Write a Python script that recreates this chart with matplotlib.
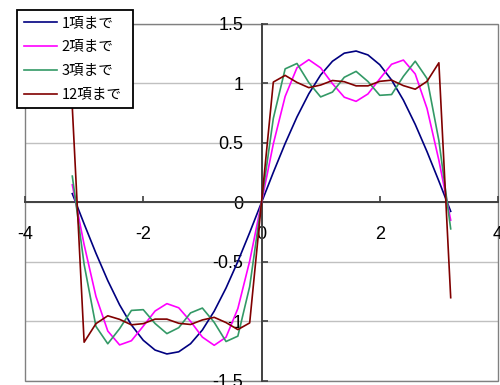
import matplotlib
matplotlib.use("Agg")
import matplotlib.pyplot as plt
from matplotlib.patches import Rectangle
from matplotlib.font_manager import FontProperties

# sample points (step 0.2)
X_VALUES = [-3.2, -3.0, -2.8, -2.6, -2.4, -2.2, -2.0, -1.8, -1.6, -1.4, -1.2, -1.0, -0.8,
            -0.6, -0.4, -0.2, 0.0, 0.2, 0.4, 0.6, 0.8, 1.0, 1.2, 1.4, 1.6, 1.8, 2.0,
            2.2, 2.4, 2.6, 2.8, 3.0, 3.2]

TERM_1 = [0.0743, -0.1797, -0.4265, -0.6564, -0.8600, -1.0294, -1.1578, -1.2400, -1.2727,
          -1.2547, -1.1867, -1.0714, -0.9134, -0.7189, -0.4958, -0.2530, 0.0,
          0.2530, 0.4958, 0.7189, 0.9134, 1.0714, 1.1867, 1.2547, 1.2727, 1.2400,
          1.1578, 1.0294, 0.8600, 0.6564, 0.4265, 0.1797, -0.0743]

TERM_2 = [0.1483, -0.3546, -0.7892, -1.0801, -1.1969, -1.1616, -1.0392, -0.9120, -0.8499,
          -0.8848, -0.9989, -1.1313, -1.2000, -1.1322, -0.8914, -0.4926, 0.0,
          0.4926, 0.8914, 1.1322, 1.2000, 1.1313, 0.9989, 0.8848, 0.8499, 0.9120,
          1.0392, 1.1616, 1.1969, 1.0801, 0.7892, 0.3546, -0.1483]

TERM_3 = [0.2216, -0.5202, -1.0415, -1.1872, -1.0602, -0.9070, -0.9006, -1.0169, -1.1018,
          -1.0521, -0.9278, -0.8871, -1.0073, -1.1682, -1.1230, -0.7069, 0.0,
          0.7069, 1.1230, 1.1682, 1.0073, 0.8871, 0.9278, 1.0521, 1.1018, 1.0169,
          0.9006, 0.9070, 1.0602, 1.1872, 1.0415, 0.5202, -0.2216]

TERM_12 = [0.800, -1.174, -1.018, -0.952, -0.982, -1.028, -1.018, -0.980, -0.980,
           -1.015, -1.025, -0.987, -0.965, -1.009, -1.068, -1.012, 0.0,
           1.012, 1.068, 1.009, 0.965, 0.987, 1.025, 1.015, 0.980, 0.980,
           1.018, 1.028, 0.982, 0.952, 1.018, 1.174, -0.800]

SERIES_LABELS = ["1項まで", "2項まで", "3項まで", "12項まで"]
SERIES_COLORS = ["#000080", "#ff00ff", "#339966", "#800000"]

X_TICKS = [-4, -2, 0, 2, 4]
X_TICK_LABELS = ["-4", "-2", "0", "2", "4"]
Y_TICKS = [-1.5, -1.0, -0.5, 0.0, 0.5, 1.0, 1.5]
Y_TICK_LABELS = ["-1.5", "-1", "-0.5", "0", "0.5", "1", "1.5"]

plt.rcParams["font.family"] = ["Liberation Sans", "DejaVu Sans"]
plt.rcParams["axes.unicode_minus"] = False

fig = plt.figure(figsize=(5.0, 3.85), dpi=100)
ax = fig.add_axes([0.05, 0.0104, 0.946, 0.9273])

for y_grid in Y_TICKS:
    ax.axhline(y_grid, color="#c0c0c0", lw=1.0, zorder=0)

for values, label, color in zip([TERM_1, TERM_2, TERM_3, TERM_12], SERIES_LABELS, SERIES_COLORS):
    ax.plot(X_VALUES, values, color=color, lw=1.2, label=label, zorder=3)

ax.set_xlim(-4, 4)
ax.set_ylim(-1.5, 1.5)

# axes crossing at zero, like the spreadsheet chart
ax.spines["left"].set_position(("data", 0))
ax.spines["bottom"].set_position(("data", 0))
for side in ["left", "bottom"]:
    ax.spines[side].set_color("#404040")
    ax.spines[side].set_linewidth(1.4)
    ax.spines[side].set_zorder(2)
for side in ["top", "right"]:
    ax.spines[side].set_visible(False)
ax.add_patch(Rectangle((0, 0), 1, 1, transform=ax.transAxes, fill=False,
                       edgecolor="#808080", lw=1.0, clip_on=False, zorder=1))

ax.set_xticks(X_TICKS)
ax.set_xticklabels(X_TICK_LABELS)
ax.set_yticks(Y_TICKS)
ax.set_yticklabels(Y_TICK_LABELS)
ax.tick_params(axis="x", direction="in", length=4, width=1.2, color="#404040",
               pad=17, labelsize=13)
ax.tick_params(axis="y", direction="in", length=4, width=1.2, color="#404040",
               pad=13, labelsize=13)

leg = ax.legend(loc="upper left",
                bbox_to_anchor=(17 / 500, 1 - 108 / 385, 116 / 500, 98 / 385),
                bbox_transform=fig.transFigure, mode="expand", borderaxespad=0,
                fancybox=False, framealpha=1, edgecolor="black",
                handlelength=2.26, handletextpad=0.34, labelspacing=0.67, borderpad=0.45,
                prop=FontProperties(family=["Noto Sans CJK JP", "DejaVu Sans"], size=10.5))
leg.get_frame().set_linewidth(1.3)
leg.set_zorder(5)

fig.savefig("out.png", dpi=100)
